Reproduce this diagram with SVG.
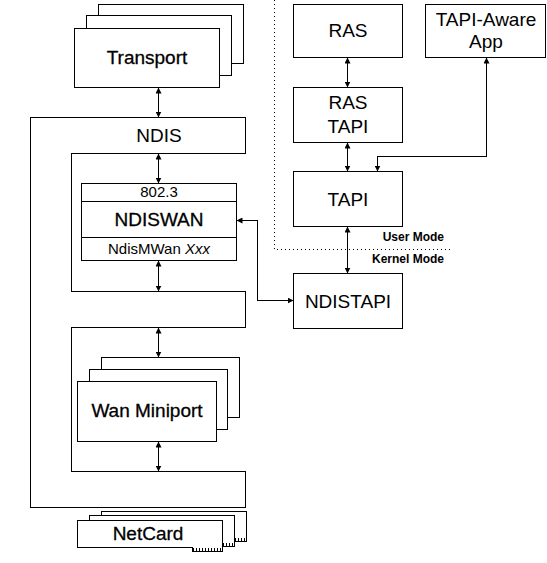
<svg xmlns="http://www.w3.org/2000/svg" width="547" height="563" viewBox="0 0 547 563">
<style>
.box{fill:#fff;stroke:#000;stroke-width:1;shape-rendering:crispEdges}
.lbl{font-family:"Liberation Sans",Arial,sans-serif;font-size:19px;fill:#000;text-anchor:middle}
.heavy{stroke:#000;stroke-width:0.3}
.small{font-size:15px}
.mode{font-family:"Liberation Sans",Arial,sans-serif;font-size:12px;font-weight:bold;text-anchor:end;fill:#000}
.conn{fill:none;stroke:#000;stroke-width:1;shape-rendering:crispEdges;marker-start:url(#ah);marker-end:url(#ah)}
.dot{fill:none;stroke:#000;stroke-width:1;stroke-dasharray:1 3;shape-rendering:crispEdges}
.ticks{stroke:#000;stroke-width:4;stroke-dasharray:1 2;shape-rendering:crispEdges}
</style>
<defs>
<marker id="ah" viewBox="0 0 6 6" refX="6" refY="3" markerWidth="6" markerHeight="6" markerUnits="userSpaceOnUse" orient="auto-start-reverse"><path d="M0,0 L6,3 L0,6 z" fill="#000"/></marker>
</defs>
<rect width="547" height="563" fill="#fff"/>

<g id="boundary">
<path class="dot" d="M274.5,0 V249.5 H452"/>
<text class="mode" x="444" y="241">User Mode</text>
<text class="mode" x="444" y="263">Kernel Mode</text>
</g>

<g id="transport">
<rect class="box" x="98.5" y="4.5" width="145" height="59"/>
<rect class="box" x="86.5" y="15.5" width="145" height="60"/>
<rect class="box" x="74.5" y="28.5" width="145" height="59"/>
<text class="lbl heavy" x="147" y="64">Transport</text>
</g>

<g id="ndis">
<polygon class="box" points="30.5,117.5 245.5,117.5 245.5,153.5 71.5,153.5 71.5,291.5 245.5,291.5 245.5,327.5 71.5,327.5 71.5,471.5 245.5,471.5 245.5,507.5 30.5,507.5"/>
<text class="lbl" x="159" y="142">NDIS</text>
</g>

<g id="ndiswan">
<rect class="box" x="81.5" y="183.5" width="155" height="77"/>
<path class="box" d="M81.5,201.5 H236.5 M81.5,237.5 H236.5"/>
<text class="lbl small" x="159" y="197">802.3</text>
<text class="lbl heavy" x="159" y="226">NDISWAN</text>
<text class="lbl small" x="159" y="254">NdisMWan <tspan font-style="italic">Xxx</tspan></text>
</g>

<g id="wanminiport">
<rect class="box" x="101.5" y="357.5" width="138" height="60"/>
<rect class="box" x="89.5" y="369.5" width="138" height="60"/>
<rect class="box" x="77.5" y="381.5" width="139" height="60"/>
<text class="lbl heavy" x="147" y="417">Wan Miniport</text>
</g>

<g id="netcard">
<path class="box" d="M101.5,511.5 H246.5 V541.5 H234.5 V537.5 H101.5 Z"/>
<line class="ticks" x1="235" y1="539.5" x2="246" y2="539.5"/>
<path class="box" d="M89.5,515.5 H234.5 V546.5 H222.5 V542.5 H89.5 Z"/>
<line class="ticks" x1="223" y1="544.5" x2="234" y2="544.5"/>
<path class="box" d="M77.5,520.5 H222.5 V551.5 H192.5 V547.5 H77.5 Z"/>
<line class="ticks" x1="193" y1="549.5" x2="222" y2="549.5"/>
<text class="lbl heavy" x="148" y="540">NetCard</text>
</g>

<g id="ras">
<rect class="box" x="293.5" y="4.5" width="109" height="53"/>
<text class="lbl" x="348" y="37">RAS</text>
</g>

<g id="rastapi">
<rect class="box" x="293.5" y="87.5" width="109" height="55"/>
<text class="lbl" x="348" y="109">RAS</text>
<text class="lbl" x="348" y="133">TAPI</text>
</g>

<g id="tapi">
<rect class="box" x="293.5" y="171.5" width="109" height="55"/>
<text class="lbl" x="348" y="206">TAPI</text>
</g>

<g id="ndistapi">
<rect class="box" x="293.5" y="273.5" width="109" height="55"/>
<text class="lbl" x="348" y="308">NDISTAPI</text>
</g>

<g id="tapiapp">
<rect class="box" x="425.5" y="4.5" width="120" height="53"/>
<text class="lbl" x="486" y="26">TAPI-Aware</text>
<text class="lbl" x="486" y="48">App</text>
</g>

<g id="connectors">
<path class="conn" d="M158.5,87.5 V117.5"/>
<path class="conn" d="M158.5,153.5 V183.5"/>
<path class="conn" d="M158.5,260.5 V291.5"/>
<path class="conn" d="M158.5,327.5 V357.5"/>
<path class="conn" d="M158.5,441.5 V471.5"/>
<path class="conn" d="M236.5,220.5 H257.5 V300.5 H293.5"/>
<path class="conn" d="M347.5,57.5 V87.5"/>
<path class="conn" d="M347.5,142.5 V171.5"/>
<path class="conn" d="M486.5,57.5 V156.5 H377.5 V171.5"/>
<path class="conn" d="M347.5,226.5 V273.5"/>
</g>
</svg>
